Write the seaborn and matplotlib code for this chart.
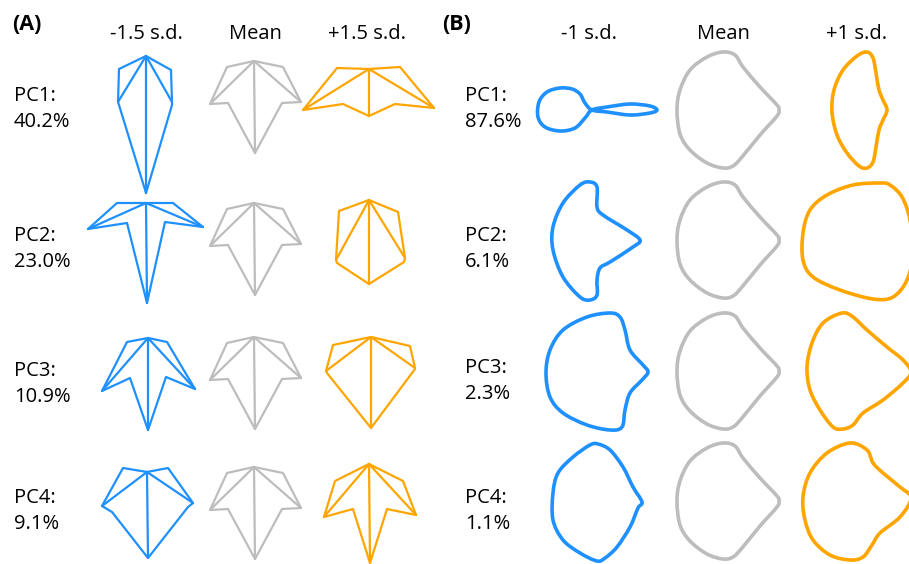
import numpy as np
import pandas as pd
import matplotlib
matplotlib.use("Agg")
import matplotlib.pyplot as plt
from matplotlib.path import Path
from matplotlib.patches import PathPatch
import seaborn as sns

# ---------------------------------------------------------------------------
# Labels
# ---------------------------------------------------------------------------
A_HEADERS = ["-1.5 s.d.", "Mean", "+1.5 s.d."]
B_HEADERS = ["-1 s.d.", "Mean", "+1 s.d."]
PCS = ["PC1:", "PC2:", "PC3:", "PC4:"]
A_VARIANCE = ["40.2%", "23.0%", "10.9%", "9.1%"]
B_VARIANCE = ["87.6%", "6.1%", "2.3%", "1.1%"]
SIDE_COLORS = {"lo": "#1E90FF", "mean": "#BDBDBD", "hi": "#FFA500"}

# ---------------------------------------------------------------------------
# (A) Landmark leaves, coordinates in px relative to each cell anchor.
# Landmark order: petiole, upper-left, left lobe tip, left sinus,
#                 leaf tip, right sinus, right lobe tip, upper-right
# ---------------------------------------------------------------------------
A_MEAN_X = [0, -27, -44, -26, 1, 28, 47, 29]
A_MEAN_Y = [0, 6, 43, 42, 92, 42, 41, 6]

A_PC1_LO_X = [0, -27, -28, -27, 0, 26, 26, 25]
A_PC1_LO_Y = [-5, 8, 41, 44, 132, 44, 41, 9]
A_PC1_HI_X = [0, -32, -66, -26, 0, 26, 65, 31]
A_PC1_HI_Y = [8, 7, 49, 43, 55, 43, 47, 6]

A_PC2_LO_X = [0, -29, -58, -19, 1, 19, 57, 27]
A_PC2_LO_Y = [0, 0, 26, 20, 100, 19, 24, 0]
A_PC2_HI_X = [0, -30, -33, -32, 0, 35, 36, 29]
A_PC2_HI_Y = [-3, 8, 57, 60, 81, 59, 55, 9]

A_PC3_LO_X = [2, -19, -44, -16, 2, 20, 49, 21]
A_PC3_LO_Y = [1, 5, 54, 41, 93, 40, 52, 5]
A_PC3_HI_X = [2, -36, -43, -42, 2, 46, 46, 41]
A_PC3_HI_Y = [0, 8, 34, 36, 91, 32, 31, 9]

A_PC4_LO_X = [1, -23, -44, -34, 2, 42, 47, 22]
A_PC4_LO_Y = [5, 1, 39, 45, 91, 40, 36, 1]
A_PC4_HI_X = [0, -34, -45, -16, 1, 18, 47, 34]
A_PC4_HI_Y = [-3, 14, 50, 42, 96, 42, 48, 14]

A_COL_X = [146, 254, 369]
A_ROW_Y = [61, 203, 337, 467]

# ---------------------------------------------------------------------------
# (B) Outline control points (px, relative to cell centre)
# ---------------------------------------------------------------------------
B_MEAN_X = [-5, -21, -38, -48, -51, -48, -38, -21, -5, 5, 14, 32, 49, 51, 49, 32, 15, 7]
B_MEAN_Y = [-58, -53, -40, -20, 0, 24, 40, 53, 58, 56, 47, 25, 6, 0, -5, -23, -43, -55]

B_PC1_LO_X = [-3, -10, -15, -23, -35, -48, -56, -57, -50, -35, -20, -10, -3, 12, 35, 55, 62, 55, 35, 12]
B_PC1_LO_Y = [0, -7, -16, -21, -22, -18, -8, 7, 17, 21, 18, 8, 0, -3, -6, -4, 0, 3, 5, 2]
B_PC1_HI_X = [1, 7, 10, 13, 17, 21, 17, 13, 10, 7, 1, -7, -19, -29, -34, -32, -23, -9]
B_PC1_HI_Y = [-58, -52, -37, -20, -10, 0, 10, 20, 37, 52, 58, 56, 43, 25, 2, -20, -40, -54]

B_PC2_LO_X = [-5, 2, 2, 8, 32, 45, 38, 15, 5, 2, 2, -5, -15, -32, -42, -42, -32, -15]
B_PC2_LO_Y = [-58, -53, -33, -25, -10, 0, 7, 22, 28, 40, 55, 60, 57, 37, 10, -13, -37, -55]
B_PC2_HI_X = [14, -13, -39, -56, -63, -63, -53, -26, 7, 27, 41, 47, 44, 36, 24]
B_PC2_HI_Y = [-57, -55, -45, -30, -7, 20, 37, 50, 59, 57, 40, 13, -20, -43, -55]

B_PC3_LO_X = [15, 25, 30, 35, 48, 53, 47, 35, 30, 27, 15, -8, -32, -45, -49, -45, -32, -8]
B_PC3_LO_Y = [-58, -54, -41, -21, -6, 1, 9, 22, 39, 56, 59, 54, 42, 26, 2, -21, -41, -54]
B_PC3_HI_X = [-24, -13, 1, 21, 37, 45, 37, 17, -3, -13, -23, -33, -46, -56, -59, -54, -43]
B_PC3_HI_Y = [-58, -54, -41, -24, -11, 1, 12, 29, 42, 54, 58, 56, 39, 19, -4, -28, -48]

B_PC4_LO_X = [3, 15, 28, 38, 47, 43, 35, 22, 10, 2, -15, -32, -42, -42, -37, -22, -5]
B_PC4_LO_Y = [-57, -51, -34, -14, 1, 7, 26, 46, 57, 60, 52, 39, 19, -8, -28, -44, -56]
B_PC4_HI_X = [-16, 1, 7, 17, 34, 45, 34, 14, 6, -3, -16, -36, -53, -61, -63, -56, -39]
B_PC4_HI_Y = [-58, -51, -38, -28, -14, -3, 16, 32, 44, 56, 59, 54, 39, 19, -4, -28, -48]

B_COL_X = [595, 728, 866]
B_ROW_Y = [110, 240, 371, 501]

A_SHAPES = [
    ((A_PC1_LO_X, A_PC1_LO_Y), (A_PC1_HI_X, A_PC1_HI_Y)),
    ((A_PC2_LO_X, A_PC2_LO_Y), (A_PC2_HI_X, A_PC2_HI_Y)),
    ((A_PC3_LO_X, A_PC3_LO_Y), (A_PC3_HI_X, A_PC3_HI_Y)),
    ((A_PC4_LO_X, A_PC4_LO_Y), (A_PC4_HI_X, A_PC4_HI_Y)),
]
B_SHAPES = [
    ((B_PC1_LO_X, B_PC1_LO_Y), (B_PC1_HI_X, B_PC1_HI_Y)),
    ((B_PC2_LO_X, B_PC2_LO_Y), (B_PC2_HI_X, B_PC2_HI_Y)),
    ((B_PC3_LO_X, B_PC3_LO_Y), (B_PC3_HI_X, B_PC3_HI_Y)),
    ((B_PC4_LO_X, B_PC4_LO_Y), (B_PC4_HI_X, B_PC4_HI_Y)),
]
SIDES = ["lo", "mean", "hi"]

# outline + three primary veins (petiole -> tip, petiole -> lobe tips)
LEAF_PARTS = [list(range(8)) + [0], [0, 4], [0, 2], [0, 6]]

# ---------------------------------------------------------------------------
sns.set_theme(style="white")
plt.rcParams["font.family"] = ["Open Sans", "DejaVu Sans"]
plt.rcParams["text.color"] = "black"

fig = plt.figure(figsize=(9.09, 5.64), dpi=100)
ax = fig.add_axes([0, 0, 1, 1])

# Panel A as one long table drawn by seaborn
records = []
for r, (lo, hi) in enumerate(A_SHAPES):
    for c, (sx, sy) in enumerate([lo, (A_MEAN_X, A_MEAN_Y), hi]):
        X = np.asarray(sx, float) + A_COL_X[c]
        Y = np.asarray(sy, float) + A_ROW_Y[r]
        for k, idx in enumerate(LEAF_PARTS):
            for i in idx:
                records.append({"x": X[i], "y": Y[i],
                                "unit": f"{r}-{c}-{k}", "side": SIDES[c]})
leaf_df = pd.DataFrame(records)
sns.lineplot(data=leaf_df, x="x", y="y", units="unit", hue="side",
             palette=SIDE_COLORS, estimator=None, sort=False, legend=False,
             lw=1.6, ax=ax)


def smooth_closed_path(xs, ys):
    """Closed Catmull-Rom curve through the control points, as cubic Beziers."""
    P = np.column_stack([xs, ys]).astype(float)
    n = len(P)
    verts = [P[0]]
    codes = [Path.MOVETO]
    for i in range(n):
        p0, p1, p2, p3 = P[i - 1], P[i], P[(i + 1) % n], P[(i + 2) % n]
        verts += [p1 + (p2 - p0) / 6.0, p2 - (p3 - p1) / 6.0, p2]
        codes += [Path.CURVE4] * 3
    return Path(verts, codes)


for r, (lo, hi) in enumerate(B_SHAPES):
    for c, (sx, sy) in enumerate([lo, (B_MEAN_X, B_MEAN_Y), hi]):
        X = np.asarray(sx, float) + B_COL_X[c]
        Y = np.asarray(sy, float) + B_ROW_Y[r]
        ax.add_patch(PathPatch(smooth_closed_path(X, Y), fill=False,
                               edgecolor=SIDE_COLORS[SIDES[c]], lw=2.6,
                               joinstyle="round"))

ax.set_xlim(0, 909)
ax.set_ylim(564, 0)
ax.set_axis_off()

# Text
ax.text(12, 30, "(A)", fontsize=15.5, fontweight="bold", va="baseline", ha="left")
ax.text(442, 30, "(B)", fontsize=15.5, fontweight="bold", va="baseline", ha="left")
for x, t in zip([146, 255, 367], A_HEADERS):
    ax.text(x, 39, t, fontsize=14.5, ha="center", va="baseline")
for x, t in zip([589, 723, 857], B_HEADERS):
    ax.text(x, 39, t, fontsize=14.5, ha="center", va="baseline")

A_LABEL_Y = [101, 241, 376, 503]
B_LABEL_Y = [101, 241, 373, 503]
for i in range(4):
    ax.text(14, A_LABEL_Y[i], PCS[i], fontsize=14.5, va="baseline")
    ax.text(14, A_LABEL_Y[i] + 26, A_VARIANCE[i], fontsize=14.5, va="baseline")
    ax.text(465, B_LABEL_Y[i], PCS[i], fontsize=14.5, va="baseline")
    ax.text(465, B_LABEL_Y[i] + 26, B_VARIANCE[i], fontsize=14.5, va="baseline")

fig.savefig("out.png", dpi=100, facecolor="white")
